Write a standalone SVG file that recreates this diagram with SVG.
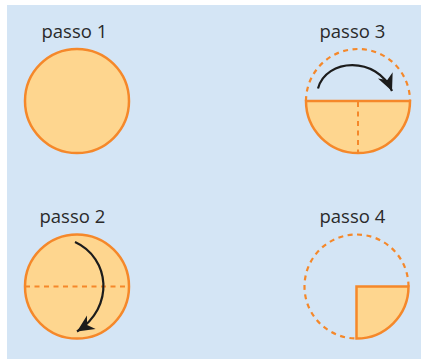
<svg xmlns="http://www.w3.org/2000/svg" width="421" height="359" viewBox="0 0 421 359">
  <style>
    .label { font-family: "Open Sans", "Noto Sans", "Liberation Sans", sans-serif; font-size: 18.5px; fill: #2a2a2a; }
    .disc { fill: #fed68f; stroke: #f5882a; stroke-width: 2.5; }
    .ghost { fill: none; stroke: #f5882a; stroke-width: 2.2; stroke-dasharray: 5 4.5; }
    .fold { fill: none; stroke: #f5882a; stroke-width: 2; stroke-dasharray: 5 4.5; }
    .turn { fill: none; stroke: #1c1c1c; stroke-width: 2.2; marker-end: url(#head); }
  </style>
  <defs>
    <marker id="head" viewBox="-18 -9 20 18" refX="0" refY="0" markerWidth="20" markerHeight="18" markerUnits="userSpaceOnUse" orient="auto">
      <path d="M0,0 L-17,-8 L-12,0 L-17,8 Z" fill="#1c1c1c"/>
    </marker>
  </defs>

  <rect x="7" y="5" width="414" height="354" fill="#d4e5f5"/>

  <g id="step1">
    <text class="label" x="41.5" y="37.5">passo 1</text>
    <circle class="disc" cx="77" cy="101" r="52"/>
  </g>

  <g id="step2">
    <text class="label" x="39.5" y="222.5">passo 2</text>
    <circle class="disc" cx="77" cy="286.5" r="52"/>
    <line class="fold" x1="25" y1="286.5" x2="129" y2="286.5"/>
  </g>

  <g id="step3">
    <text class="label" x="319.5" y="37.5">passo 3</text>
    <path class="ghost" d="M306,101 A52,52 0 0 1 410,101"/>
    <path class="disc" d="M306,101 L410,101 A52,52 0 0 1 306,101 Z"/>
    <line class="fold" x1="358" y1="102" x2="358" y2="153"/>
  </g>

  <g id="step4">
    <text class="label" x="319.5" y="222.5">passo 4</text>
    <path class="ghost" d="M408.5,286.5 A52,52 0 1 0 356.5,338.5"/>
    <path class="disc" d="M356.5,286.5 L408.5,286.5 A52,52 0 0 1 356.5,338.5 Z"/>
  </g>

  <g id="connectors">
    <path class="turn" d="M318,88.5 C326,58 377,56 392,91"/>
    <path class="turn" d="M75,242 C110,258 115,307 77,331.5"/>
  </g>
</svg>
